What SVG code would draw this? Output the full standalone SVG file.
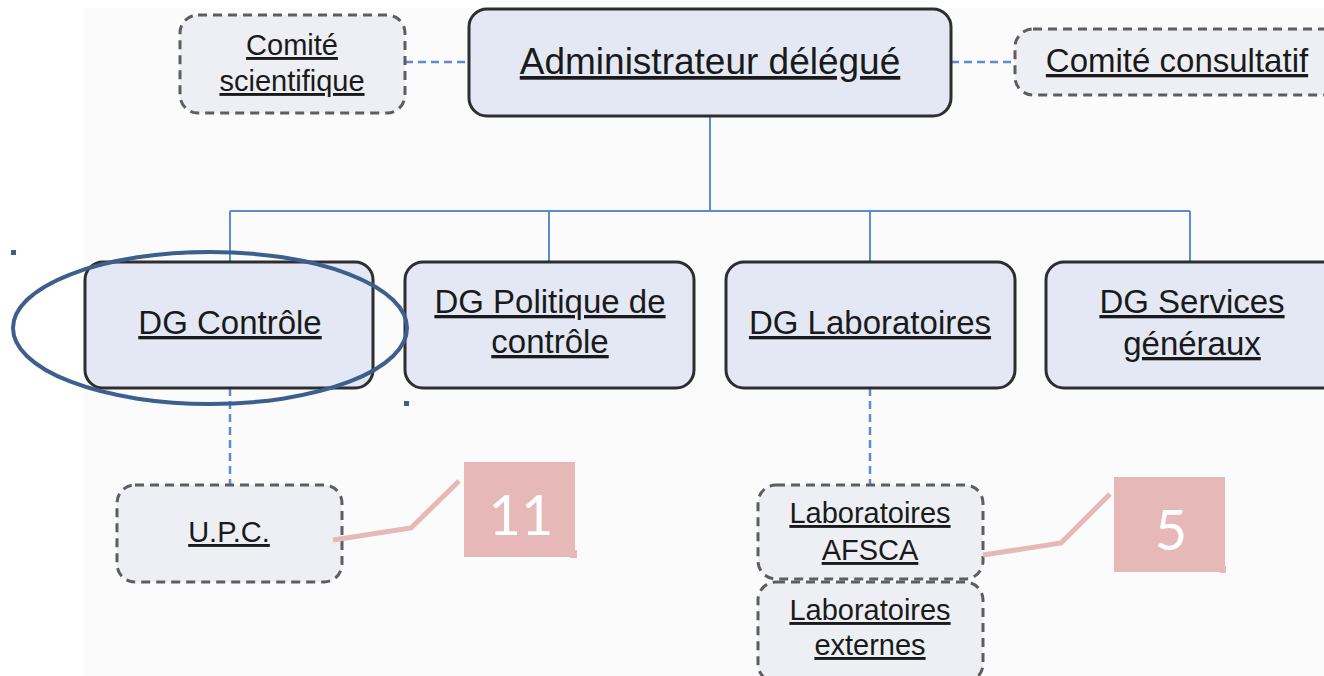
<svg xmlns="http://www.w3.org/2000/svg" width="1324" height="676" viewBox="0 0 1324 676">
<defs>
<style>
.bg{fill:#fafbfa}
.main{fill:#e3e8f4;stroke:#2e2e2e;stroke-width:3}
.dash{fill:#edeff5;stroke:#5e5e5e;stroke-width:3;stroke-dasharray:9 6}
.t{font-family:"Liberation Sans",Arial,sans-serif;fill:#1a1a1a;text-anchor:middle;text-decoration:underline}
.solid{fill:none;stroke:#5b8bd6;stroke-width:2}
.dl{fill:none;stroke:#5b8bd6;stroke-width:2.5;stroke-dasharray:8 5}
.call{fill:#e6b8b7}
.cl{fill:none;stroke:#e6b8b7;stroke-width:5}
.ct{font-family:Lato,"Open Sans",sans-serif;fill:#fff;text-anchor:middle;font-size:56px}
</style>
</defs>
<rect width="1324" height="676" fill="#ffffff"/>
<rect class="bg" x="83" y="8" width="1241" height="668"/>
<g id="connectors">
<path class="dl" d="M405 62 H469"/>
<path class="dl" d="M951 62 H1015"/>
<path class="solid" d="M710 116 V211 M230 211 H1190 M230 211 V262 M549 211 V262 M870 211 V262 M1190 211 V262"/>
<path class="dl" d="M230 388 V485"/>
<path class="dl" d="M870 388 V485"/>
</g>
<g id="comite-scientifique">
<rect class="dash" x="180" y="15" width="225" height="98" rx="18"/>
<text class="t" x="292" y="55" font-size="29">Comité</text>
<text class="t" x="292" y="91" font-size="29">scientifique</text>
</g>
<g id="administrateur">
<rect class="main" x="469" y="9" width="482" height="107" rx="18" stroke="#1a1a1a" stroke-width="3.5"/>
<text class="t" x="710" y="74" font-size="37">Administrateur délégué</text>
</g>
<g id="comite-consultatif">
<rect class="dash" x="1015" y="29" width="330" height="66" rx="18"/>
<text class="t" x="1177" y="72" font-size="33">Comité consultatif</text>
</g>
<g id="dg-controle">
<rect class="main" x="85" y="262" width="288" height="126" rx="18"/>
<text class="t" x="230" y="334" font-size="33">DG Contrôle</text>
</g>
<g id="dg-politique">
<rect class="main" x="405" y="262" width="289" height="126" rx="18"/>
<text class="t" x="550" y="313" font-size="33">DG Politique de</text>
<text class="t" x="550" y="353" font-size="33">contrôle</text>
</g>
<g id="dg-laboratoires">
<rect class="main" x="726" y="262" width="289" height="126" rx="18"/>
<text class="t" x="870" y="334" font-size="33">DG Laboratoires</text>
</g>
<g id="dg-services">
<rect class="main" x="1046" y="262" width="300" height="126" rx="18"/>
<text class="t" x="1192" y="313" font-size="33">DG Services</text>
<text class="t" x="1192" y="355" font-size="33">généraux</text>
</g>
<g id="upc">
<rect class="dash" x="117" y="485" width="225" height="97" rx="18"/>
<text class="t" x="229" y="542" font-size="29">U.P.C.</text>
</g>
<g id="lab-afsca">
<rect class="dash" x="758" y="485" width="225" height="94" rx="18"/>
<text class="t" x="870" y="523" font-size="29">Laboratoires</text>
<text class="t" x="870" y="560" font-size="29">AFSCA</text>
</g>
<g id="lab-externes">
<rect class="dash" x="758" y="582" width="225" height="100" rx="18"/>
<text class="t" x="870" y="620" font-size="29">Laboratoires</text>
<text class="t" x="870" y="655" font-size="29">externes</text>
</g>
<g id="highlight">
<ellipse cx="210" cy="328" rx="197" ry="76" fill="none" stroke="#3c5f8e" stroke-width="4"/>
<rect x="11" y="250" width="5" height="5" fill="#3c5f8e"/>
<rect x="404" y="401" width="5" height="5" fill="#3c5f8e"/>
</g>
<g id="callout-11">
<path class="cl" d="M333 540 L411 528 L459 481"/>
<rect class="call" x="464" y="462" width="111" height="95"/>
<rect class="call" x="570" y="550" width="7" height="8"/>
<text class="ct" x="521" y="535">11</text>
</g>
<g id="callout-5">
<path class="cl" d="M983 555 L1061 543 L1110 494"/>
<rect class="call" x="1114" y="477" width="111" height="95"/>
<rect class="call" x="1220" y="566" width="6" height="7"/>
<text class="ct" x="1171" y="550">5</text>
</g>
</svg>
